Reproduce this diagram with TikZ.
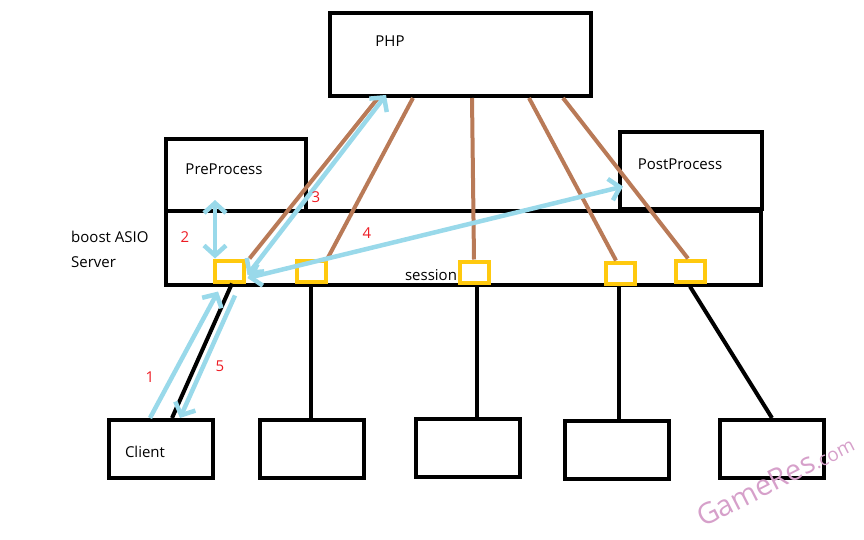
\documentclass[tikz,border=0pt]{standalone}
\usepackage{fontspec}
\setmainfont{Open Sans}
\usetikzlibrary{arrows.meta}

\definecolor{paintbrown}{RGB}{185,122,87}
\definecolor{paintblue}{RGB}{153,217,234}
\definecolor{paintgold}{RGB}{255,201,14}
\definecolor{paintred}{RGB}{237,28,36}
\definecolor{wmark}{RGB}{214,160,202}

\tikzset{
	box/.style = {draw, line width=4pt, inner sep=0pt},
	slot/.style = {draw=paintgold, line width=4pt, inner sep=0pt,
			minimum width=29pt, minimum height=21pt},
	txt/.style = {font=\fontsize{15}{18}\selectfont, inner sep=0pt},
	num/.style = {font=\fontsize{15}{18}\selectfont, text=paintred, inner sep=0pt},
	wire/.style = {line width=4pt},
	pipe/.style = {paintbrown, line width=4pt},
	flow/.style = {paintblue, line width=4.5pt,
			arrows={-Straight Barb[length=10pt,width=22pt]}},
	twoway/.style = {flow,
			arrows={Straight Barb[length=10pt,width=22pt]-Straight Barb[length=10pt,width=22pt]}}
}

\begin{document}
\begin{tikzpicture}[x=1pt, y=-1pt]
		\useasboundingbox (0,0) rectangle (864,540);

		% upper boxes
		\node[box, minimum width=261pt, minimum height=83pt] (php) at (460.5,54.5) {};
		\node[box, minimum width=140pt, minimum height=72pt] (pre) at (236,175) {};
		\node[box, minimum width=142pt, minimum height=77pt] (post) at (691,170.5) {};
		\node[box, minimum width=595pt, minimum height=74pt] (server) at (463.5,248) {};

		\node[txt] (phptext) at (390,41) {PHP};
		\node[txt] (pretext) at (224,169) {PreProcess};
		\node[txt] (posttext) at (680,164) {PostProcess};
		\node[txt, anchor=west] (asio) at (71,237) {boost ASIO};
		\node[txt, anchor=west] (srv) at (71,262) {Server};
		\node[txt] (sess) at (431,275) {session};

		% clients
		\node[box, minimum width=104pt, minimum height=58pt] (c1) at (161,449) {};
		\node[box, minimum width=104pt, minimum height=58pt] (c2) at (312,449) {};
		\node[box, minimum width=104pt, minimum height=58pt] (c3) at (468,448) {};
		\node[box, minimum width=104pt, minimum height=58pt] (c4) at (616.5,449.5) {};
		\node[box, minimum width=104pt, minimum height=58pt] (c5) at (772,449) {};
		\node[txt] (ctext) at (145,452) {Client};

		% sessions
		\node[slot] (s1) at (229,271) {};
		\node[slot] (s2) at (311,271) {};
		\node[slot] (s3) at (474,272) {};
		\node[slot] (s4) at (620,273) {};
		\node[slot] (s5) at (690,271) {};

		\draw[wire] ([xshift=3pt]s1.south) -- ([xshift=11pt]c1.north);
		\draw[wire] ([yshift=-1pt]s2.south) -- (s2.south |- c2.north);
		\draw[wire] ([xshift=3pt,yshift=-1pt]s3.south) -- ([xshift=3pt]s3.south |- c3.north);
		\draw[wire] ([xshift=-1pt,yshift=-1pt]s4.south) -- ([xshift=-1pt]s4.south |- c4.north);
		\draw[wire] ([yshift=-3pt]s5.south) -- (c5.north);

		\draw[pipe] ([xshift=50pt]php.south west) -- ([xshift=4pt]s1.north east);
		\draw[pipe] ([xshift=85pt]php.south west) -- (s2.north east);
		\draw[pipe] ([xshift=144pt]php.south west) -- (s3.north);
		\draw[pipe] ([xshift=201pt]php.south west) -- ([xshift=-4pt]s4.north);
		\draw[pipe] ([xshift=235pt]php.south west) -- ([xshift=-2pt]s5.north);

		% message flow
		\draw[flow] ([xshift=-11pt]c1.north) -- ([xshift=-11pt,yshift=-8pt]s1.south);
		\draw[twoway] ([xshift=-14pt]s1.north) -- ([xshift=-21pt,yshift=13pt]pre.south);
		\draw[twoway] ([xshift=2pt,yshift=-4pt]s1.east) -- ([xshift=58pt,yshift=3pt]php.south west);
		\draw[twoway] ([xshift=2pt,yshift=-7pt]s1.east) -- ([xshift=5pt,yshift=-16pt]post.west);
		\draw[flow] ([xshift=6pt,yshift=-12pt]s1.south) -- ([xshift=19pt]c1.north);

		\node[num] (n1) at (150,377) {1};
		\node[num] (n2) at (185,237) {2};
		\node[num] (n3) at (316,197) {3};
		\node[num] (n4) at (367,233) {4};
		\node[num] (n5) at (220,366) {5};

		\node[text=wmark, rotate=27, anchor=base west, inner sep=0pt] (wm) at (703,528)
			{\fontsize{29}{29}\selectfont GameRes\fontsize{19}{19}\selectfont .com};
	\end{tikzpicture}
\end{document}
